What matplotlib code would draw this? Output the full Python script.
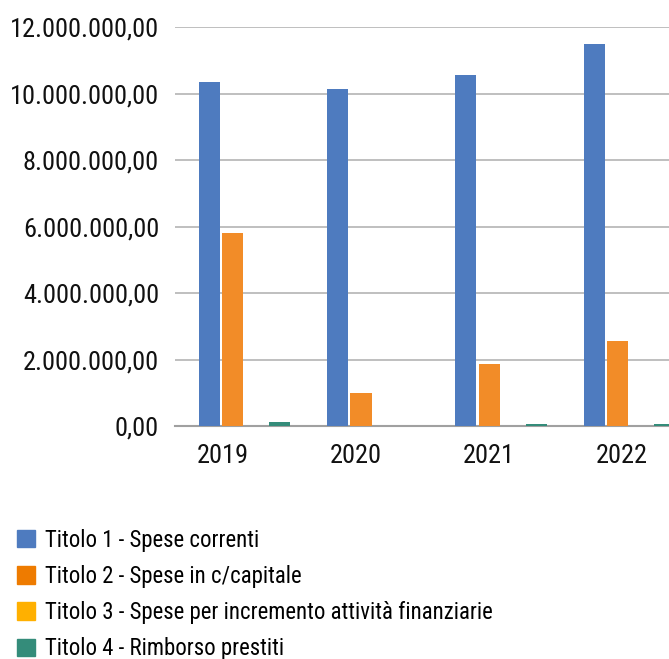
import matplotlib
matplotlib.use("Agg")
import matplotlib.pyplot as plt
from matplotlib.ticker import FuncFormatter, MultipleLocator
from matplotlib.patches import Patch

years = ["2019", "2020", "2021", "2022"]
series = [
    "Titolo 1 - Spese correnti",
    "Titolo 2 - Spese in c/capitale",
    "Titolo 3 - Spese per incremento attività finanziarie",
    "Titolo 4 - Rimborso prestiti",
]
titolo1 = [10350000, 10140000, 10560000, 11500000]
titolo2 = [5800000, 980000, 1860000, 2550000]
titolo3 = [0, 0, 0, 0]
titolo4 = [120000, 0, 60000, 60000]
values = [titolo1, titolo2, titolo3, titolo4]

bar_colors = ["#4e7bbf", "#f28c28", "#ffb000", "#348c7a"]
legend_colors = ["#4e7bbf", "#ee7b00", "#ffb000", "#348c7a"]

plt.rcParams["font.family"] = ["Roboto Condensed", "DejaVu Sans"]

fig = plt.figure(figsize=(6.69, 6.59), dpi=100)
ax = fig.add_axes([0.2616, 0.3536, 1 - 0.2616, 0.9586 - 0.3536])

offsets = [-0.273, -0.09, 0.09, 0.277]
x = list(range(len(years)))
for vals, off, col in zip(values, offsets, bar_colors):
    ax.bar([i + off for i in x], vals, width=0.165, color=col, zorder=3)

ax.set_ylim(0, 12000000)
ax.set_xlim(-0.54, 3.31)
ax.yaxis.set_major_locator(MultipleLocator(2000000))


def it_fmt(v, pos):
    s = f"{v:,.2f}"
    return s.replace(",", "X").replace(".", ",").replace("X", ".")


ax.yaxis.set_major_formatter(FuncFormatter(it_fmt))
ax.grid(axis="y", color="#b4b4b4", lw=1.2, zorder=0)
# year labels sit a bit left of the bar groups, as in the original
ax.set_xticks([-0.166 + i * 1.036 for i in x])
ax.set_xticklabels(years)
for s in ["top", "right", "left"]:
    ax.spines[s].set_visible(False)
ax.spines["bottom"].set_color("#a0a0a0")
ax.spines["bottom"].set_linewidth(1.5)
ax.tick_params(axis="both", length=0, labelsize=19, colors="#111111")
ax.tick_params(axis="y", pad=11.5)
ax.tick_params(axis="x", pad=13)

handles = [Patch(color=c) for c in legend_colors]
fig.legend(handles, series, loc="upper left", bbox_to_anchor=(0.025, 0.198),
           frameon=False, fontsize=16.4, handlelength=0.8, handleheight=0.8,
           handletextpad=0.45, labelspacing=0.58, borderaxespad=0, borderpad=0)

fig.savefig("out.png", dpi=100)
